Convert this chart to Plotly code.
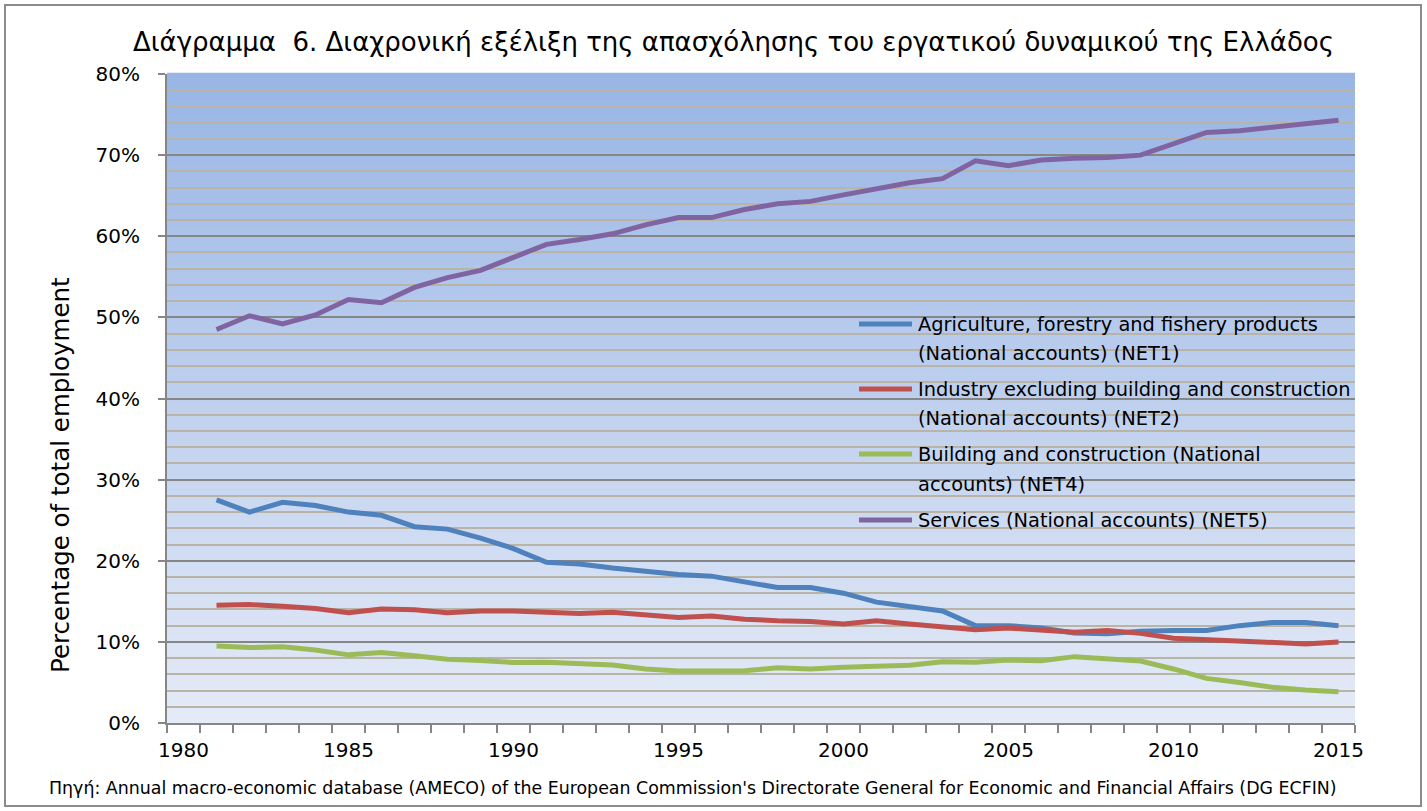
import plotly.graph_objects as go

years = list(range(1981, 2016))

agriculture = [27.5, 26.0, 27.2, 26.8, 26.0, 25.6, 24.2, 23.9, 22.8, 21.5, 19.8,
               19.6, 19.1, 18.7, 18.3, 18.1, 17.4, 16.7, 16.7, 16.0, 14.9, 14.3,
               13.8, 12.0, 12.0, 11.7, 11.1, 11.0, 11.3, 11.4, 11.4, 12.0, 12.4,
               12.4, 12.0]
industry = [14.5, 14.6, 14.4, 14.1, 13.6, 14.05, 13.97, 13.6, 13.8, 13.8, 13.64,
            13.5, 13.64, 13.3, 13.0, 13.2, 12.8, 12.6, 12.5, 12.2, 12.6, 12.2,
            11.8, 11.5, 11.7, 11.5, 11.2, 11.4, 11.05, 10.45, 10.3, 10.1, 9.95,
            9.75, 10.0]
construction = [9.5, 9.3, 9.4, 9.0, 8.4, 8.7, 8.3, 7.85, 7.7, 7.45, 7.5,
                7.36, 7.15, 6.66, 6.41, 6.41, 6.45, 6.8, 6.66, 6.86, 7.03, 7.11,
                7.56, 7.48, 7.77, 7.68, 8.18, 7.97, 7.64, 6.66, 5.5, 5.0, 4.4,
                4.07, 3.86]
services = [48.5, 50.2, 49.2, 50.3, 52.2, 51.8, 53.7, 54.9, 55.8, 57.4, 59.0,
            59.6, 60.3, 61.4, 62.3, 62.3, 63.3, 64.0, 64.3, 65.1, 65.8, 66.6,
            67.1, 69.3, 68.7, 69.4, 69.6, 69.7, 70.0, 71.45, 72.8, 73.0, 73.4,
            73.9, 74.3]

series_names = [
    ["Agriculture, forestry and fishery products", "(National accounts) (NET1)"],
    ["Industry excluding building and construction", "(National accounts) (NET2)"],
    ["Building and construction (National", "accounts) (NET4)"],
    ["Services (National accounts) (NET5)"],
]
series_values = [agriculture, industry, construction, services]
colors = ["#4F81BD", "#C0504D", "#9BBB59", "#8064A2"]

x_tick_years = [1980, 1985, 1990, 1995, 2000, 2005, 2010, 2015]
y_tick_values = [0, 10, 20, 30, 40, 50, 60, 70, 80]

title_text = "Διάγραμμα  6. Διαχρονική εξέλιξη της απασχόλησης του εργατικού δυναμικού της Ελλάδος"
y_title_text = "Percentage of total employment"
source_text = ("Πηγή: Annual macro-economic database (AMECO) of the European Commission's "
               "Directorate General for Economic and Financial Affairs (DG ECFIN)")

W, H = 1427, 811
L, R, T, B = 167, 1355, 74, 723  # plot area in page pixels
FONT = "DejaVu Sans"


def px_x(p):
    return (p - L) / (R - L)


def px_y(p):
    return (B - p) / (B - T)


fig = go.Figure()
for name, vals, col in zip(series_names, series_values, colors):
    fig.add_trace(go.Scatter(x=years, y=vals, mode="lines", name=" ".join(name),
                             line=dict(color=col, width=5), showlegend=False,
                             hoverinfo="x+y"))

shapes = []
# gradient plot background
n_bands = 160
top_c = (152, 181, 229)
bot_c = (229, 235, 247)
for i in range(n_bands):
    f = (i + 0.5) / n_bands
    c = tuple(int(round(bot_c[k] + (top_c[k] - bot_c[k]) * f)) for k in range(3))
    shapes.append(dict(type="rect", xref="paper", yref="paper",
                       x0=0, x1=1, y0=i / n_bands, y1=(i + 1) / n_bands + 0.002,
                       fillcolor="rgb(%d,%d,%d)" % c, line=dict(width=0),
                       layer="below"))
# chart border
shapes.append(dict(type="rect", xref="paper", yref="paper",
                   x0=px_x(5), x1=px_x(1421), y0=px_y(806), y1=px_y(5),
                   line=dict(color="#8C8C8C", width=2), fillcolor="rgba(0,0,0,0)",
                   layer="above"))

annotations = []
# custom legend
legend_line_y = [[324, 353], [389, 418], [454, 484], [520]]
for lines, ys, col in zip(series_names, legend_line_y, colors):
    shapes.append(dict(type="line", xref="paper", yref="paper",
                       x0=px_x(859), x1=px_x(912), y0=px_y(ys[0]), y1=px_y(ys[0]),
                       line=dict(color=col, width=5)))
    for txt, yy in zip(lines, ys):
        annotations.append(dict(text=txt, xref="paper", yref="paper",
                                x=px_x(916), y=px_y(yy), xanchor="left", yanchor="middle",
                                showarrow=False, font=dict(family=FONT, size=19.4, color="#000000")))

annotations.append(dict(text=title_text, xref="paper", yref="paper",
                        x=px_x(733), y=px_y(42), xanchor="center", yanchor="middle",
                        showarrow=False, font=dict(family=FONT, size=26, color="#000000")))
annotations.append(dict(text=y_title_text, xref="paper", yref="paper",
                        x=px_x(60), y=px_y(475), xanchor="center", yanchor="middle",
                        textangle=-90, showarrow=False,
                        font=dict(family=FONT, size=24.5, color="#000000")))
annotations.append(dict(text=source_text, xref="paper", yref="paper",
                        x=px_x(693), y=px_y(788), xanchor="center", yanchor="middle",
                        showarrow=False, font=dict(family=FONT, size=17.4, color="#000000")))

fig.update_layout(
    width=W, height=H,
    margin=dict(l=L, r=W - R, t=T, b=H - B, pad=0),
    paper_bgcolor="white",
    plot_bgcolor="rgba(0,0,0,0)",
    font=dict(family=FONT, size=20, color="#000000"),
    shapes=shapes,
    annotations=annotations,
    showlegend=False,
    xaxis=dict(
        range=[1979.5, 2015.5],
        tickmode="array", tickvals=x_tick_years, ticktext=[str(v) for v in x_tick_years],
        ticks="outside", ticklen=8, tickcolor="rgba(0,0,0,0)",
        tickfont=dict(family=FONT, size=20, color="#000000"),
        showgrid=False, zeroline=False,
        showline=True, linecolor="#868686", linewidth=2,
        minor=dict(tickmode="linear", tick0=1979.5, dtick=1, ticks="outside",
                   ticklen=8, tickwidth=2, tickcolor="#868686", showgrid=False),
        fixedrange=True,
    ),
    yaxis=dict(
        range=[0, 80],
        tickmode="array", tickvals=y_tick_values,
        ticktext=["%d%%" % v for v in y_tick_values],
        ticks="outside", ticklen=7, tickwidth=2, tickcolor="#868686",
        ticklabelstandoff=14,
        tickfont=dict(family=FONT, size=20, color="#000000"),
        showgrid=True, gridcolor="#868686", gridwidth=2,
        zeroline=False,
        showline=True, linecolor="#868686", linewidth=2,
        minor=dict(tickmode="linear", tick0=0, dtick=2, ticks="",
                   showgrid=True, gridcolor="#B9B4A6", gridwidth=1.5),
        fixedrange=True,
    ),
)

fig.write_html(
    "out.html",
    config={"displayModeBar": False},
    post_script="document.body.style.margin='0';document.body.style.overflow='hidden';",
)
